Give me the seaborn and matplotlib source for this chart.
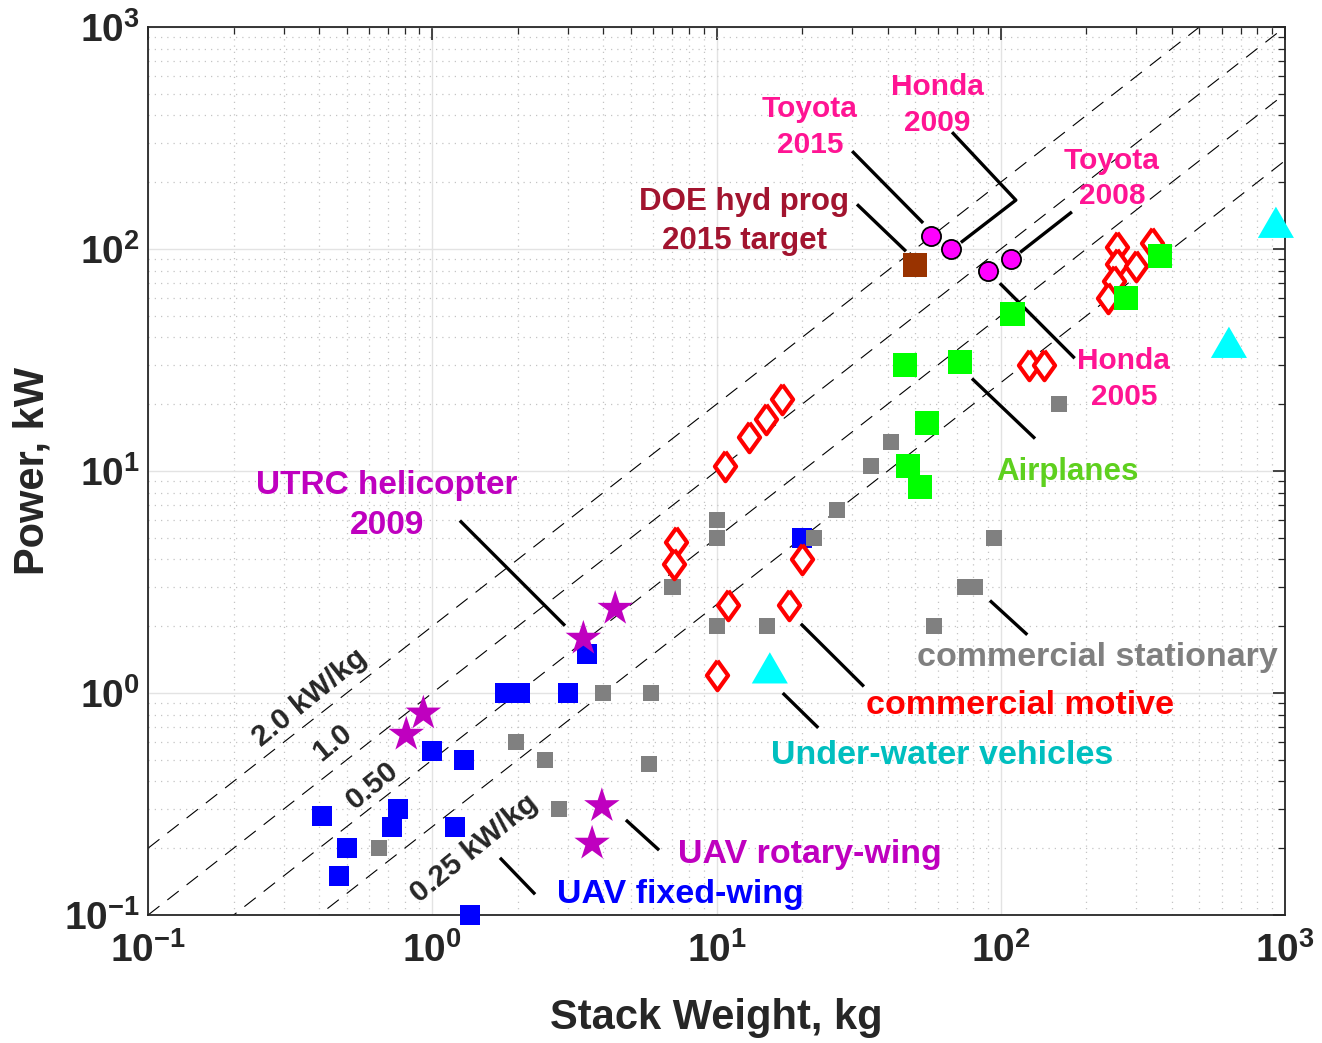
"""Fuel cell stack power vs. stack weight (log-log)."""

import matplotlib
matplotlib.use('Agg')
import matplotlib.pyplot as plt
import seaborn as sns
import numpy as np
from matplotlib.ticker import LogLocator, FuncFormatter, NullFormatter

# --- data (stack weight kg, power kW) ---
fixed_wing_x = [0.41, 0.50, 0.47, 0.76, 0.72, 1.0, 1.29, 1.2, 1.36, 1.8, 2.04, 3.0, 3.5, 20]
fixed_wing_y = [0.28, 0.20, 0.15, 0.30, 0.25, 0.55, 0.50, 0.25, 0.10, 1.0, 1.0, 1.0, 1.5, 5.0]

stationary_x = [0.65, 1.97, 2.5, 2.8, 4.0, 5.9, 5.8, 7.0, 10, 10, 10, 15, 22, 26.5,
                35, 41, 58, 75, 81, 95, 160]
stationary_y = [0.20, 0.60, 0.50, 0.30, 1.0, 1.0, 0.48, 3.0, 6.0, 5.0, 2.0, 2.0, 5.0, 6.7,
                10.5, 13.5, 2.0, 3.0, 3.0, 5.0, 20]

motive_x = [7.2, 7.1, 10, 11, 18, 20, 10.7, 13, 14.9, 17, 126, 142,
            256, 340, 256, 299, 250, 238]
motive_y = [4.8, 3.8, 1.2, 2.5, 2.5, 4.0, 10.5, 14.2, 17.2, 21, 30, 30,
            102, 106, 86, 84, 72, 60]

rotary_x = [0.93, 0.81, 3.4, 4.4, 3.95, 3.65]
rotary_y = [0.81, 0.65, 1.76, 2.4, 0.31, 0.21]

airplane_x = [46, 72, 55, 47, 52, 110, 276, 363]
airplane_y = [30, 31, 16.5, 10.5, 8.5, 51, 60, 93]

doe_x = [50]
doe_y = [85]

car_x = [57, 67, 90, 109]
car_y = [114, 100, 80, 90]

underwater_x = [15.4, 635, 929]
underwater_y = [1.23, 36, 125]

ratios = [2.0, 1.0, 0.5, 0.25]
ratio_labels = ['2.0 kW/kg', '1.0', '0.50', '0.25 kW/kg']

# --- style ---
sns.set_style('white')
plt.rcParams['font.family'] = ['Liberation Sans', 'DejaVu Sans']
plt.rcParams['font.weight'] = 'bold'
plt.rcParams['mathtext.fontset'] = 'custom'
plt.rcParams['mathtext.rm'] = 'Liberation Sans:bold'
plt.rcParams['mathtext.bf'] = 'Liberation Sans:bold'
plt.rcParams['mathtext.it'] = 'Liberation Sans:bold'

fig = plt.figure(figsize=(13.22, 10.43), dpi=100)
ax = fig.add_axes([0.112, 0.1227, 0.860, 0.8514])
ax.set_xscale('log')
ax.set_yscale('log')
ax.set_xlim(0.1, 1000)
ax.set_ylim(0.1, 1000)

# grid
ax.grid(True, which='major', color='#e3e3e3', linestyle='-', linewidth=1.0)
ax.grid(True, which='minor', color='#c4c4c4', linestyle=(0, (1, 4)), linewidth=0.9)
ax.set_axisbelow(True)

# constant specific power lines
x_line = np.array(ax.get_xlim())
for k in ratios:
    ax.plot(x_line, k * x_line, color='black', linewidth=0.8,
            linestyle=(0, (13, 9)), zorder=2)

tri = [(-1, -0.5774), (1, -0.5774), (0, 1.1547), (-1, -0.5774)]
diamond = [(0, 1), (0.72, 0), (0, -1), (-0.72, 0), (0, 1)]

series = [
    (fixed_wing_x, fixed_wing_y, dict(marker='s', s=207, color='#0000ff', edgecolor='none')),
    (stationary_x, stationary_y, dict(marker='s', s=133, color='#808080', edgecolor='none')),
    (motive_x, motive_y, dict(marker=diamond, s=450, facecolor='white', edgecolor='#ff0000', linewidth=3.0)),
    (rotary_x, rotary_y, dict(marker='*', s=720, color='#bf00bf', edgecolor='none')),
    (airplane_x, airplane_y, dict(marker='s', s=300, color='#00ff00', edgecolor='none')),
    (doe_x, doe_y, dict(marker='s', s=300, color='#993300', edgecolor='none')),
    (car_x, car_y, dict(marker='o', s=190, color='#ff00ff', edgecolor='black', linewidth=1.3)),
    (underwater_x, underwater_y, dict(marker=tri, s=900, color='#00ffff', edgecolor='none')),
]
for i, (xs, ys, kw) in enumerate(series):
    sns.scatterplot(x=xs, y=ys, ax=ax, zorder=3 + i, clip_on=False, legend=False, **kw)

# leader lines
leaders = [
    ([30.0, 53.3], [276, 131]),            # Toyota 2015
    ([67.4, 113, 72.4], [336, 166, 107]),  # Honda 2009
    ([31.2, 46.4], [159, 97.7]),           # DOE
    ([178, 117], [147, 96.6]),             # Toyota 2008
    ([99.3, 182], [70.1, 32.2]),           # Honda 2005
    ([79.2, 132], [26.1, 14.0]),           # Airplanes
    ([91.6, 124], [2.61, 1.83]),           # commercial stationary
    ([19.8, 33.0], [2.05, 1.07]),          # commercial motive
    ([17.1, 22.8], [1.0, 0.697]),          # under-water
    ([4.8, 6.28], [0.268, 0.196]),         # UAV rotary
    ([1.73, 2.3], [0.181, 0.124]),         # UAV fixed
    ([1.25, 2.93], [5.98, 2.01]),          # UTRC helicopter
]
for lx, ly in leaders:
    ax.plot(lx, ly, color='black', linewidth=2.4, zorder=2.5, solid_capstyle='butt')

pink = '#ff1493'
labels = [
    (21.3, 354, 'Toyota\n2015', pink, 21.5),
    (59.7, 445, 'Honda\n2009', pink, 21.5),
    (12.5, 133, 'DOE hyd prog\n2015 target', '#a2142f', 22.5),
    (246, 208, 'Toyota\n2008', pink, 21.5),
    (271, 25.9, 'Honda\n2005', pink, 21.5),
    (171, 9.85, 'Airplanes', '#5ed01e', 22.5),
    (218, 1.44, 'commercial stationary', '#808080', 24.5),
    (117, 0.875, 'commercial motive', '#ff0000', 24.5),
    (62.1, 0.521, 'Under-water vehicles', '#00bfbf', 24.5),
    (21.3, 0.188, 'UAV rotary-wing', '#bf00bf', 24.5),
    (7.45, 0.124, 'UAV fixed-wing', '#0000ff', 24.5),
    (0.694, 6.98, 'UTRC helicopter\n2009', '#bf00bf', 24),
]
for tx, ty, txt, col, fs in labels:
    ax.text(tx, ty, txt, color=col, fontsize=fs, fontweight='bold',
            ha='center', va='center', linespacing=1.35, zorder=10)

# ratio line labels
ratio_pos = [(0.371, 0.953), (0.443, 0.597), (0.614, 0.382), (1.41, 0.20)]
for (tx, ty), txt in zip(ratio_pos, ratio_labels):
    ax.text(tx, ty, txt, fontsize=21.5, fontweight='bold', rotation=39,
            ha='center', va='center', rotation_mode='anchor', zorder=10)

# axes, ticks
for sp in ax.spines.values():
    sp.set_color('#262626')
    sp.set_linewidth(1.3)
ax.xaxis.set_major_locator(LogLocator(base=10, numticks=10))
ax.yaxis.set_major_locator(LogLocator(base=10, numticks=10))
ax.xaxis.set_minor_locator(LogLocator(base=10, subs=np.arange(2, 10), numticks=20))
ax.yaxis.set_minor_locator(LogLocator(base=10, subs=np.arange(2, 10), numticks=20))
fmt = FuncFormatter(lambda v, p: r'$\mathbf{10^{%d}}$' % int(round(np.log10(v))))
ax.xaxis.set_major_formatter(fmt)
ax.yaxis.set_major_formatter(fmt)
ax.xaxis.set_minor_formatter(NullFormatter())
ax.yaxis.set_minor_formatter(NullFormatter())
ax.tick_params(which='both', direction='in', top=True, right=True, colors='#262626')
ax.tick_params(which='major', length=9, width=1.2, labelsize=28)
ax.tick_params(which='minor', length=5, width=0.9)
ax.tick_params(axis='x', which='major', pad=12)
ax.tick_params(axis='y', which='major', pad=6)

ax.set_xlabel('Stack Weight, kg', fontsize=30, fontweight='bold', color='#262626')
ax.set_ylabel('Power, kW', fontsize=30, fontweight='bold', color='#262626')
ax.xaxis.set_label_coords(0.5, -0.093)
ax.yaxis.set_label_coords(-0.084, 0.5)

plt.savefig('out.png', dpi=100)
